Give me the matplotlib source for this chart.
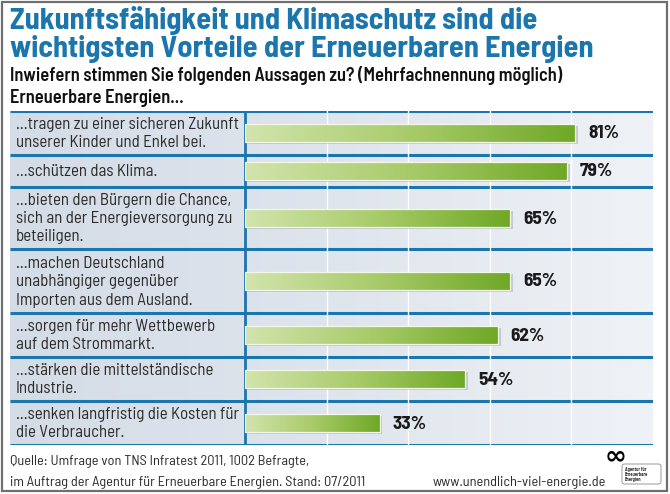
import matplotlib
matplotlib.use("Agg")
import matplotlib.pyplot as plt
import numpy as np
from matplotlib.patches import Rectangle, FancyBboxPatch
from matplotlib.colors import LinearSegmentedColormap

# ---------------- data ----------------
title_lines = ["Zukunftsfähigkeit und Klimaschutz sind die",
               "wichtigsten Vorteile der Erneuerbaren Energien"]
subtitle_lines = ["Inwiefern stimmen Sie folgenden Aussagen zu? (Mehrfachnennung möglich)",
                  "Erneuerbare Energien..."]
categories = [
    "...tragen zu einer sicheren Zukunft\nunserer Kinder und Enkel bei.",
    "...schützen das Klima.",
    "...bieten den Bürgern die Chance,\nsich an der Energieversorgung zu\nbeteiligen.",
    "...machen Deutschland\nunabhängiger gegenüber\nImporten aus dem Ausland.",
    "...sorgen für mehr Wettbewerb\nauf dem Strommarkt.",
    "...stärken die mittelständische\nIndustrie.",
    "...senken langfristig die Kosten für\ndie Verbraucher.",
]
values = [81, 79, 65, 65, 62, 54, 33]
source_lines = ["Quelle: Umfrage von TNS Infratest 2011, 1002 Befragte,",
                "im Auftrag der Agentur für Erneuerbare Energien. Stand: 07/2011"]
website = "www.unendlich-viel-energie.de"
logo_text = "Agentur für\nErneuerbare\nEnergien"

# ---------------- layout ----------------
W, H = 670, 494
row_heights = [44, 32, 62, 64, 44, 44, 44]   # pixel heights of rows
table_top, table_left, divider_x, table_right = 111, 10, 245, 653
table_bottom = table_top + sum(row_heights)

BLUE = "#1b76ad"
TXT = "#2a2a2a"
F_COND = ["Barlow Semi Condensed", "DejaVu Sans"]
plt.rcParams["font.family"] = F_COND

fig = plt.figure(figsize=(W / 100, H / 100), dpi=100)
fig.patch.set_facecolor("white")
renderer = fig.canvas.get_renderer()

def fx(x): return x / W
def fy(y): return 1 - y / H

def fit(t, target_w):
    for _ in range(3):
        w = t.get_window_extent(renderer).width
        t.set_fontsize(t.get_fontsize() * target_w / w)
    return t.get_fontsize()

# background axes covering the whole table (pixel coords)
bg = fig.add_axes([fx(table_left), fy(table_bottom), fx(table_right - table_left),
                   (table_bottom - table_top) / H])
bg.set_xlim(table_left, table_right)
bg.set_ylim(table_bottom, table_top)
bg.axis("off")
grad = np.linspace(0, 1, 256).reshape(1, -1)
cmap_bg = LinearSegmentedColormap.from_list("bg", ["#d4dce6", "#dfe5ed", "#eff2f6"])
bg.imshow(grad, extent=[table_left, table_right, table_bottom, table_top],
          aspect="auto", cmap=cmap_bg, zorder=0)

# bar axes
ax = fig.add_axes([fx(divider_x), fy(table_bottom), fx(table_right - divider_x),
                   (table_bottom - table_top) / H])
ax.patch.set_alpha(0)
for s in ax.spines.values():
    s.set_visible(False)
ax.set_xticks([])
ax.set_yticks([])

edges = np.concatenate([[0], np.cumsum(row_heights)])
centers = (edges[:-1] + edges[1:]) / 2
bar_h = 18

for g in [20, 40, 60, 80]:
    ax.axvline(g, color="white", lw=1.0, zorder=1)

probe = fig.text(0, 0, "81%", fontsize=12, fontweight="bold")
val_fs = fit(probe, 31)
probe.remove()

cmap_bar = LinearSegmentedColormap.from_list("bar", ["#d2e4ad", "#a8cb6a", "#6fa826"])
for c, v in zip(centers, values):
    ax.barh(c + 2, v + 0.4, height=bar_h, left=0.3, color="#8c96a0", alpha=0.4,
            zorder=2, lw=0)
    ax.imshow(grad, extent=[0, v, c + bar_h / 2, c - bar_h / 2], aspect="auto",
              cmap=cmap_bar, zorder=3, vmin=0, vmax=1)
    ax.barh(c, v, height=bar_h, facecolor="none", edgecolor="#f2f7e8", lw=0.9, zorder=4)
    ax.text(v + 3.1, c + 1, f"{v}%", ha="left", va="center", fontsize=val_fs,
            fontweight="bold", color="#1a1a1a", zorder=5)
ax.set_xlim(0, 100)
ax.set_ylim(table_bottom - table_top, 0)

# table lines
for e in edges:
    bg.plot([table_left, table_right], [table_top + e, table_top + e], color=BLUE,
            lw=2.2, solid_capstyle="butt", zorder=6)
bg.plot([divider_x, divider_x], [table_top, table_bottom], color=BLUE, lw=2.0, zorder=6)

# category labels (one text per line, fixed baseline step)
probe = fig.text(0, 0, "...tragen zu einer sicheren Zukunft", fontsize=10)
lab_fs = fit(probe, 223)
probe.remove()
step = 18.5
for c, lab in zip(centers, categories):
    lines = lab.split("\n")
    n = len(lines)
    for i, line in enumerate(lines):
        base = table_top + c + 5 + (i - (n - 1) / 2) * step
        fig.text(fx(16), fy(base), line, ha="left", va="baseline", fontsize=lab_fs,
                 color=TXT)

# title
t = fig.text(fx(10), fy(29), title_lines[0], fontsize=20, fontweight="bold", color=BLUE,
             ha="left", va="baseline")
tfs = fit(t, 527)
fig.text(fx(10), fy(57), title_lines[1], fontsize=tfs, fontweight="bold", color=BLUE,
         ha="left", va="baseline")
s1 = fig.text(fx(10), fy(81), subtitle_lines[0], fontsize=11, fontweight="semibold",
              color="#111111", ha="left", va="baseline")
sfs = fit(s1, 552)
fig.text(fx(10), fy(103), subtitle_lines[1], fontsize=sfs, fontweight="semibold",
         color="#111111", ha="left", va="baseline")

# footer
f1 = fig.text(fx(10), fy(465), source_lines[0], fontsize=9.5, color=TXT, ha="left",
              va="baseline")
f2 = fig.text(fx(10), fy(486), source_lines[1], fontsize=9.5, color=TXT, ha="left",
              va="baseline")
ffs = fit(f2, 355)
f1.set_fontsize(ffs)
fig.text(fx(606), fy(486), website, fontsize=ffs, color=TXT, ha="right", va="baseline")
fig.text(fx(616), fy(463), "∞", fontsize=19, color="black", ha="center", va="baseline",
         family="DejaVu Sans", fontweight="bold")
fig.patches.append(FancyBboxPatch((fx(622), fy(484)), fx(39), 20 / H,
                                  boxstyle="round,pad=0,rounding_size=0.004",
                                  transform=fig.transFigure,
                                  facecolor="white", edgecolor="#8a8a8a", lw=0.6))
fig.text(fx(625), fy(474.5), logo_text, fontsize=3.3, color="#333333", ha="left",
         va="center", linespacing=1.0, fontweight="bold")

# outer frame
fig.patches.append(Rectangle((fx(2), fy(491)), fx(665), 489 / H, transform=fig.transFigure,
                             facecolor="none", edgecolor="#6f6f6f", lw=1.6))

fig.savefig("out.png", dpi=100)
